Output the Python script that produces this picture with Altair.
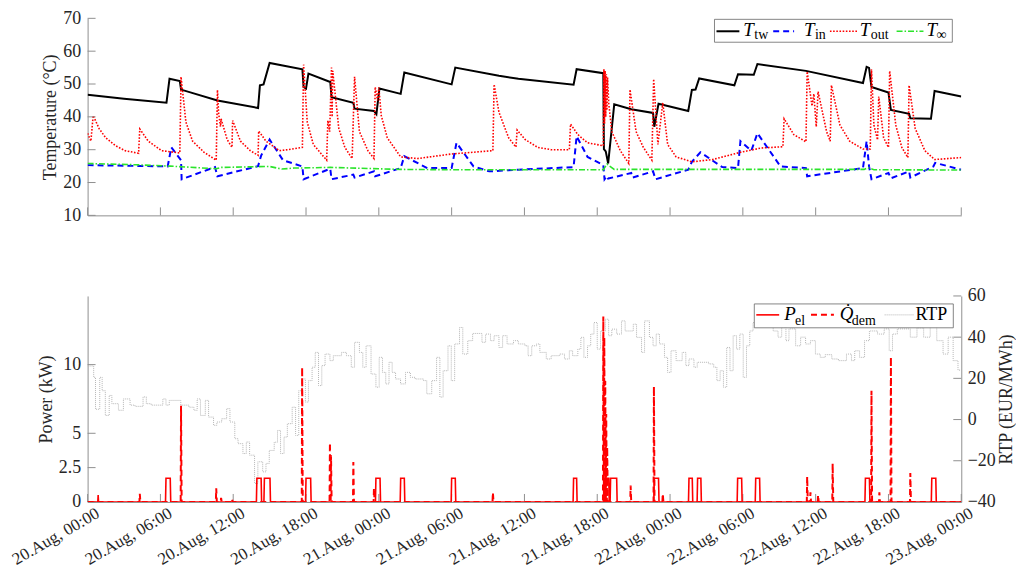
import json
import altair as alt
import pandas as pd

SERIF = "Liberation Serif, Times New Roman, DejaVu Serif, serif"
AX = "#8f8f8f"
TXT = "#262626"

# ---------------- data ----------------
TICK_HOURS = [0, 6, 12, 18, 24, 30, 36, 42, 48, 54, 60, 66, 72]
TICK_LABELS = ["20.Aug, 00:00", "20.Aug, 06:00", "20.Aug, 12:00", "20.Aug, 18:00",
               "21.Aug, 00:00", "21.Aug, 06:00", "21.Aug, 12:00", "21.Aug, 18:00",
               "22.Aug, 00:00", "22.Aug, 06:00", "22.Aug, 12:00", "22.Aug, 18:00",
               "23.Aug, 00:00"]
TEMP_TICKS = [10, 20, 30, 40, 50, 60, 70]
POWER_TICKS = [0, 2.5, 5, 10]
RTP_TICKS = [-40, -20, 0, 20, 40, 60]

# tank water temperature T_tw (hour, degC)
TW_H = [0, 3, 6.5, 6.75, 7.6, 7.7, 10.7, 14.05, 14.2, 14.5, 15.0, 17.7, 17.8, 18.0, 18.2,
        20.0, 20.1, 21.9, 22.0, 23.6, 23.8, 24.05, 25.8, 26.1, 30.0, 30.3, 33.9, 35.5,
        40.05, 40.3, 42.5, 42.55, 42.7, 42.9, 43.4, 44.8, 46.6, 46.7, 47.05, 49.5, 49.8,
        50.1, 50.4, 53.3, 53.6, 54.9, 55.2, 59.2, 63.9, 64.2, 64.4, 64.6, 66.0, 66.2,
        67.7, 67.8, 69.5, 69.8, 72]
TW_T = [46.7, 45.5, 44.3, 51.6, 50.9, 48.3, 45.0, 42.7, 49.6, 49.9, 56.4, 54.5, 49.1, 48.6, 53.2,
        50.6, 46.0, 44.3, 42.5, 41.8, 40.8, 48.6, 47.0, 53.5, 49.9, 55.0, 52.5, 51.6,
        49.8, 54.5, 53.3, 30.2, 29.5, 25.8, 43.8, 42.3, 41.2, 37.0, 44.0, 41.8, 48.2,
        48.3, 51.7, 49.6, 53.0, 52.8, 56.1, 54.0, 50.3, 55.2, 54.9, 49.1, 47.4, 42.1,
        40.9, 39.6, 39.4, 47.9, 46.2]

# inlet temperature T_in
IN_H = [0, 6.6, 6.9, 7.7, 7.75, 10.5, 10.7, 14.05, 14.3, 15.0, 16.1, 17.7, 17.8, 20.0, 20.1,
        21.9, 22.0, 23.6, 23.7, 25.8, 26.1, 28.0, 30.0, 30.4, 31.8, 33.1, 35.5, 40.05, 40.3,
        41.2, 42.5, 42.6, 42.8, 42.9, 44.8, 44.9, 46.6, 46.8, 49.5, 49.8, 50.5, 52.3, 53.6,
        53.8, 54.7, 55.2, 57.1, 59.2, 59.3, 63.9, 64.2, 64.4, 64.6, 66.0, 66.2, 67.7, 67.8,
        69.7, 69.85, 72]
IN_T = [25.3, 24.9, 30.7, 26.8, 21.0, 24.7, 21.9, 25.0, 28.2, 33.1, 26.8, 24.9, 21.0, 24.2, 21.0,
        22.4, 21.5, 23.4, 21.9, 24.4, 28.0, 24.4, 24.4, 32.1, 24.9, 23.4, 23.9, 24.7, 34.1,
        27.8, 25.3, 21.0, 22.0, 21.2, 22.9, 21.5, 23.4, 21.0, 23.9, 26.3, 29.2, 24.7, 24.4,
        32.6, 29.7, 35.0, 24.9, 24.4, 21.9, 24.4, 32.6, 24.9, 21.0, 22.9, 21.3, 23.4, 21.5,
        24.9, 26.0, 23.9]

# outlet temperature T_out
OUT_H = [0, 0.27, 0.46, 0.95, 1.5, 2.3, 3.1, 4.2, 4.3, 5.0, 6.1, 7.6, 7.7, 8.1, 8.65, 9.6,
         10.6, 10.7, 10.8, 10.95, 11.0, 11.5, 11.9, 11.95, 12.6, 13.4, 14.05, 14.1, 14.7,
         15.8, 16.5, 17.7, 17.8, 18.1, 18.6, 19.7, 19.8, 19.95, 20.1, 20.15, 20.2, 20.7,
         21.2, 21.8, 22.0, 22.4, 23.1, 23.6, 23.7, 23.9, 24.0, 24.2, 24.7, 25.8, 27.2,
         30.0, 33.4, 33.5, 33.9, 34.7, 35.3, 35.4, 36.05, 37.1, 38.2, 39.7, 39.8, 40.4,
         41.2, 42.5, 42.55, 42.6, 42.65, 42.7, 42.75, 42.8, 42.85, 42.95, 43.2, 43.9, 44.6,
         44.7, 45.2, 45.8, 46.5, 46.65, 47.0, 47.4, 47.8, 48.5, 49.8, 51.5, 53.8, 55.5,
         57.3, 57.4, 58.2, 59.2, 59.3, 59.7, 59.85, 60.05, 60.2, 60.9, 61.2, 61.3, 62.0,
         62.8, 63.9, 64.5, 64.6, 64.8, 65.1, 65.2, 65.6, 66.0, 66.1, 66.6, 67.1, 67.6,
         67.7, 68.2, 69.0, 69.8, 72]
OUT_T = [35.0, 32.6, 40.4, 36.4, 33.6, 31.2, 29.7, 28.9, 36.3, 32.6, 29.7, 29.0, 52.2, 38.4, 32.6, 29.2,
         26.8, 48.2, 41.0, 37.0, 39.4, 33.1, 30.7, 38.9, 32.6, 29.7, 28.3, 35.7, 32.6,
         29.7, 30.0, 30.7, 55.9, 38.4, 31.6, 26.8, 38.9, 35.5, 55.0, 40.0, 54.0, 36.5,
         30.7, 27.3, 52.2, 35.5, 29.7, 27.3, 49.1, 45.0, 49.0, 40.4, 33.6, 27.8, 27.3,
         28.7, 29.7, 49.9, 41.4, 33.6, 30.8, 36.0, 33.1, 30.7, 30.0, 30.0, 37.8, 34.6,
         32.1, 31.2, 54.5, 38.0, 54.0, 40.0, 53.0, 42.0, 52.0, 44.0, 35.5, 29.7, 25.8,
         48.3, 35.5, 30.7, 26.8, 51.5, 31.6, 44.3, 31.6, 27.8, 26.3, 27.0, 29.2, 30.5,
         30.9, 39.4, 34.6, 32.4, 53.8, 43.3, 47.0, 37.0, 47.7, 35.5, 32.6, 49.6, 37.5,
         32.6, 30.2, 30.2, 54.5, 37.5, 33.0, 46.2, 33.6, 30.7, 54.0, 37.5, 30.7, 27.6,
         49.6, 36.5, 29.7, 27.0, 27.6]

# ambient temperature T_inf
INF_H = [0, 4, 6.8, 10.6, 11.0, 15.0, 16.0, 17.0, 20.0, 25.8, 30.0, 42.5, 42.8, 43.4, 64.0, 64.3, 64.8, 72]
INF_T = [25.8, 25.4, 25.0, 24.2, 24.6, 24.9, 24.1, 24.4, 24.6, 24.0, 23.9, 23.9, 25.6, 24.0, 24.0, 24.5, 23.9, 23.8]

# electric power P_el: heat-pump on-intervals (start hour, end hour), on-level kW
PEL_ON = [(6.46, 6.81), (13.95, 14.3), (14.57, 15.03), (18.0, 18.38), (23.76, 24.1),
          (25.8, 26.1), (30.0, 30.3), (40.05, 40.3), (42.6, 42.95), (43.1, 43.6),
          (46.7, 47.05), (49.56, 49.83), (50.27, 50.54), (53.57, 53.9), (55.06, 55.38),
          (64.1, 64.43), (69.57, 69.9)]
PEL_LEVEL = 1.72
PEL_BLIP = (0.87, 0.5)

# heat demand Q_dem spikes (hour, peak kW)
QDEM_SPIKES = [(4.3, 0.6), (7.7, 7.0), (10.6, 1.0), (11.0, 0.3), (11.9, 0.2), (17.68, 9.8),
               (19.97, 4.3), (20.06, 3.4), (21.9, 2.9), (23.6, 1.0), (33.4, 0.7),
               (42.5, 13.5), (42.58, 12.0), (42.66, 8.8), (42.74, 6.4), (42.82, 4.0),
               (44.75, 1.2), (46.67, 8.4), (47.4, 0.6), (59.3, 1.84), (59.57, 0.7),
               (60.2, 0.5), (61.4, 2.8), (64.6, 8.1), (65.25, 0.7), (66.2, 10.55), (67.8, 2.1)]

# real-time price RTP (step start hour, EUR/MWh)
RTP_H = [0, 0.5, 0.65, 1.0, 1.2, 1.46, 1.78, 2.0, 2.54, 2.95, 3.5, 3.9, 4.57, 4.84, 5.24, 6.2,
         6.46, 6.73, 7.68, 8.35, 8.76, 9.03, 9.3, 9.7, 9.97, 10.38, 10.65, 11.05, 11.46, 11.73,
         12.13, 12.4, 12.8, 13.08, 13.35, 13.76, 14.03, 14.43, 14.7, 14.97, 15.38, 15.65, 15.9,
         16.19, 16.46, 16.86, 17.14, 17.4, 17.68, 17.95, 18.2, 18.5, 18.76, 19.03, 19.3, 19.57,
         19.97, 20.25, 20.92, 21.33, 21.73, 22.0, 22.4, 22.68, 22.95, 23.36, 23.76, 24.03, 24.3,
         24.57, 24.84, 25.1, 25.38, 25.79, 26.2, 26.6, 27.0, 27.68, 27.95, 28.36, 28.76, 29.03,
         29.3, 29.7, 29.97, 30.25, 30.65, 30.92, 31.33, 31.73, 32.5, 32.8, 33.2, 33.5, 33.9,
         34.2, 34.57, 35.1, 35.5, 36.05, 36.3, 36.6, 37.0, 37.27, 37.8, 38.2, 38.9, 39.3, 39.7,
         39.97, 40.4, 40.65, 40.9, 41.2, 41.46, 41.73, 42.0, 42.27, 42.67, 42.94, 43.2, 43.6,
         44.0, 44.3, 44.97, 45.24, 45.65, 45.9, 46.3, 46.6, 46.86, 47.13, 47.54, 47.8, 48.08,
         48.5, 49.0, 49.3, 49.56, 49.97, 50.24, 51.2, 51.6, 51.86, 52.13, 52.4, 52.67, 52.94,
         53.2, 53.48, 53.75, 54.03, 54.3, 54.57, 54.84, 55.5, 56.5, 56.9, 57.2, 57.55, 57.8,
         58.35, 58.76, 59.17, 59.57, 59.98, 60.38, 60.79, 61.33, 61.87, 62.54, 62.95, 63.22,
         63.62, 64.03, 64.43, 65.1, 65.65, 66.06, 66.33, 66.73, 67.8, 68.35, 68.9, 69.44,
         69.98, 70.5, 70.92, 71.33, 71.73, 72.0]
RTP_V = [26, 20.5, 5, 20.5, 14, 2, 11.7, 7.7, 4.5, 10, 7, 6.4, 11, 7.7, 7, 10,
         7, 9.3, 7, 6, 4.5, 10, 2, 9.3, 1.2, -2.8, -1.2, 0.4, 5.3, -1.2,
         -9.3, -11.7, -16.5, -10.9, -17.3, -31, -20.5, -25.4, -21.3, -15, -11, -5.3, -16.5,
         -8.5, -2, 6, -7.7, 14, 19.7, 8.5, 18.9, 25.4, 32.6, 16.5, 26.2, 31.8,
         28.6, 31, 32.6, 31, 25.4, 37.5, 32.6, 25.4, 35.8, 22.1, 15.7, 30.2, 22.9,
         17.3, 27.8, 22.9, 19.7, 17.3, 22.9, 20.5, 19.7, 18.9, 12.5, 18.9, 30.2, 10.9,
         23.7, 35.8, 18.9, 36.7, 44.7, 31.8, 38.3, 41.8, 37.5, 41.5, 38.3, 40.7, 35,
         40.7, 36.7, 38.3, 36.7, 35.8, 31, 35.8, 36.7, 32.6, 29.4, 31, 31.8, 29.4, 33.4,
         31, 34.2, 39.9, 30.2, 35.8, 41.5, 47.1, 34.2, 43, 48.7, 40.7, 43.9, 41.5,
         47.9, 43, 46.3, 39.9, 32.6, 47.9, 39.9, 35.8, 41.5, 36.7, 30.2, 22.9, 33.4,
         28.6, 32.6, 26.2, 29.4, 25.4, 27.8, 27, 25.4, 18.9, 23.7, 15.7, 35, 23.7,
         40.7, 34.2, 41.5, 20.5, 35.8, 43, 47.1, 46, 43, 40, 45, 38.3, 44,
         35.8, 40, 36.7, 38.3, 31.8, 30.2, 31.5, 29.4, 28.6, 31.8, 28.6, 33.4,
         30.2, 38.3, 43, 41.5, 44, 33.4, 41.5, 44, 40, 44.5, 40, 45,
         38.3, 31.8, 40, 28.6, 24, 24]

# ---------------- build frames ----------------
def frame(h, v):
    return pd.DataFrame({"h": h, "v": v})

pel_h, pel_v = [0.0, PEL_BLIP[0] - 0.03, PEL_BLIP[0], PEL_BLIP[0] + 0.03], [0, 0, PEL_BLIP[1], 0]
for a, b in PEL_ON:
    pel_h += [a - 0.04, a, b, b + 0.04]
    pel_v += [0, PEL_LEVEL, PEL_LEVEL, 0]
pel_h.append(72.0)
pel_v.append(0)

q_h, q_v = [0.0], [0]
for t, p in QDEM_SPIKES:
    q_h += [t - 0.03, t, t + 0.05]
    q_v += [0, p, 0]
q_h.append(72.0)
q_v.append(0)

W, H1, H2 = 878, 198, 207
ONE = pd.DataFrame({"a": [0]})
FS = 18


def axstyle(**over):
    d = dict(ticks=False, grid=False, domainColor=AX, labelFont=SERIF, titleFont=SERIF,
             labelFontSize=FS, titleFontSize=FS, labelColor=TXT, titleColor=TXT,
             titleFontWeight="normal")
    d.update(over)
    return d


# ---------------- top panel ----------------
xs = alt.Scale(domain=[0, 72], nice=False, zero=False)
x_top = alt.X("h:Q", scale=xs, title=None,
              axis=alt.Axis(values=TICK_HOURS, labels=False, **axstyle()))
y_top = alt.Y("v:Q", scale=alt.Scale(domain=[10, 70], nice=False, zero=False),
              axis=alt.Axis(values=TEMP_TICKS, title="Temperature (°C)",
                            **axstyle(labelPadding=7, titlePadding=3)))


def line(df, x, y, color, width, dash=None, interp=None):
    kw = dict(color=color, strokeWidth=width, clip=True)
    if dash:
        kw["strokeDash"] = dash
    if interp:
        kw["interpolate"] = interp
    return alt.Chart(df).mark_line(**kw).encode(x=x, y=y)


def txt(s, x, y, size, italic=True):
    return alt.Chart(ONE).mark_text(text=s, align="left", baseline="alphabetic", font=SERIF,
                                    fontSize=size, fontStyle="italic" if italic else "normal",
                                    color="black").encode(x=alt.value(x), y=alt.value(y))


def seg(x1, x2, y, color, width, dash=None):
    kw = dict(color=color, strokeWidth=width)
    if dash:
        kw["strokeDash"] = dash
    return alt.Chart(ONE).mark_rule(**kw).encode(x=alt.value(x1), x2=alt.value(x2), y=alt.value(y))


def box(x1, x2, y1, y2):
    return alt.Chart(ONE).mark_rect(fill="white", stroke="#666666", strokeWidth=0.8).encode(
        x=alt.value(x1), x2=alt.value(x2), y=alt.value(y1), y2=alt.value(y2))


GREEN = "#2be42b"
LX = W - 248  # legend left edge, top panel
top_layers = [
    line(frame(TW_H, TW_T), x_top, y_top, "black", 2),
    line(frame(IN_H, IN_T), x_top, y_top, "#0000ff", 2, [6, 4]),
    line(frame(OUT_H, OUT_T), x_top, y_top, "#ff0000", 1.6, [1.6, 1.6]),
    line(frame(INF_H, INF_T), x_top, y_top, GREEN, 1.6, [6, 2, 1.5, 2]),
    alt.Chart(pd.DataFrame({"h": TICK_HOURS})).mark_rule(color=AX, strokeWidth=1).encode(
        x=x_top, y=alt.value(H1), y2=alt.value(H1 - 8)),
    alt.Chart(pd.DataFrame({"v": TEMP_TICKS})).mark_rule(color=AX, strokeWidth=1).encode(
        y=y_top, x=alt.value(0), x2=alt.value(8)),
    box(LX, LX + 239, 1, 24),
    seg(LX + 2, LX + 25, 13, "black", 2),
    txt("T", LX + 29, 18, 19), txt("tw", LX + 40, 21, 14, False),
    seg(LX + 59, LX + 80, 13, "#0000ff", 2, [6, 4]),
    txt("T", LX + 90, 18, 19), txt("in", LX + 101, 21, 14, False),
    seg(LX + 116, LX + 144, 13, "#ff0000", 1.6, [1.6, 1.6]),
    txt("T", LX + 146, 18, 19), txt("out", LX + 157, 21, 14, False),
    seg(LX + 183, LX + 210, 13, GREEN, 1.6, [6, 2, 1.5, 2]),
    txt("T", LX + 213, 18, 19), txt("∞", LX + 223, 21, 14, False),
]
top = alt.layer(*top_layers).properties(width=W, height=H1)

# ---------------- bottom panel ----------------
label_expr = json.dumps(TICK_LABELS) + "[round(datum.value / 6)]"
x_bot = alt.X("h:Q", scale=xs, title=None,
              axis=alt.Axis(values=TICK_HOURS, labelExpr=label_expr, labelAngle=-30,
                            labelAlign="right", labelBaseline="top",
                            labelFlush=False, labelOverlap=False,
                            **axstyle(labelPadding=3, labelOffset=6, labelFontSize=17)))
y_pow = alt.Y("v:Q", scale=alt.Scale(domain=[0, 15], nice=False, zero=False),
              axis=alt.Axis(values=POWER_TICKS, labelExpr="'' + datum.value",
                            title="Power (kW)", orient="left",
                            **axstyle(labelPadding=7, titlePadding=3)))
y_rtp = alt.Y("v:Q", scale=alt.Scale(domain=[-40, 60], nice=False, zero=False),
              axis=alt.Axis(values=RTP_TICKS, title="RTP (EUR/MWh)",
                            orient="right", titleAngle=270, titleBaseline="top",
                            **axstyle(labelPadding=6, titlePadding=2)))

rtp_group = alt.layer(
    line(frame(RTP_H, RTP_V), x_bot, y_rtp, "#b5b5b5", 1, [1, 1], "step-after"),
    alt.Chart(pd.DataFrame({"v": RTP_TICKS})).mark_rule(color=AX, strokeWidth=1).encode(
        y=y_rtp, x=alt.value(W - 8), x2=alt.value(W)),
)

BX = W - 208  # legend left edge, bottom panel
red_group = alt.layer(
    alt.Chart(pd.DataFrame({"h": TICK_HOURS})).mark_rule(color=AX, strokeWidth=1).encode(
        x=x_bot, y=alt.value(H2), y2=alt.value(H2 - 8)),
    alt.Chart(pd.DataFrame({"v": POWER_TICKS})).mark_rule(color=AX, strokeWidth=1).encode(
        y=y_pow, x=alt.value(0), x2=alt.value(8)),
    line(frame(pel_h, pel_v), x_bot, y_pow, "#ff0000", 1.6),
    line(frame(q_h, q_v), x_bot, y_pow, "#ff0000", 2, [6, 4]),
    box(BX, BX + 200, 8, 32),
    seg(BX + 2, BX + 25, 19, "#ff0000", 1.6),
    txt("P", BX + 30, 24, 19), txt("el", BX + 41, 29, 14, False),
    seg(BX + 57, BX + 80, 19, "#ff0000", 2, [6, 4]),
    txt("Q\u0307", BX + 86, 24, 19), txt("dem", BX + 98, 29, 14, False),
    seg(BX + 131, BX + 160, 19, "#b5b5b5", 1, [1, 1]),
    txt("RTP", BX + 162, 24, 18, False),
)

bottom = alt.layer(rtp_group, red_group).resolve_scale(y="independent").properties(width=W, height=H2)

chart = (
    alt.vconcat(top, bottom, spacing=63,
                padding={"top": 0, "left": 0, "right": 0, "bottom": 0})
    .configure(font=SERIF)
    .configure_view(stroke=None)
)

chart.save("out.html", embed_options={"renderer": "svg", "actions": False})
